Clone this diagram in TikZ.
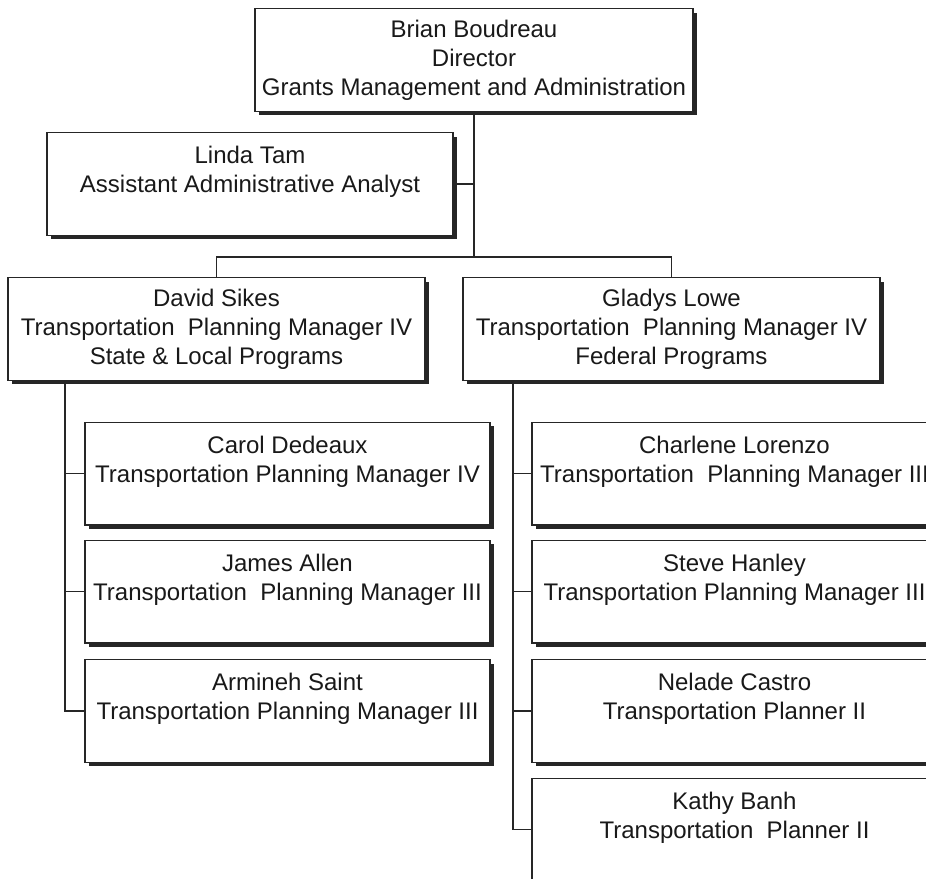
\documentclass[tikz,border=0pt]{standalone}
\usepackage{fontspec}
\setmainfont{Liberation Sans}
\usetikzlibrary{shadows}

\begin{document}
\begin{tikzpicture}[x=0.75pt, y=-0.75pt, font=\fontsize{18}{21.75}\selectfont,
  box/.style={draw=black!85, rectangle, line width=1pt, fill=white, text=black!90,
    align=center, minimum height=77pt,
    drop shadow={shadow xshift=3pt, shadow yshift=-3pt, fill=black!85, opacity=1}},
  link/.style={draw=black!85, line width=1pt}]
\path[use as bounding box, clip] (0,0) rectangle (926,879);

% Director
\node[box, minimum width=328.5pt] (director) at (474,60)
{Brian Boudreau \\ Director \\ Grants Management and Administration};

% Staff box
\node[box, minimum width=304.5pt] (tam) at (250,184)
{Linda Tam \\ Assistant Administrative Analyst \\ ~};

% Managers
\node[box, minimum width=312.75pt] (sikes) at (216.5,329)
{David Sikes \\ Transportation\ \ Planning Manager IV \\ State \& Local Programs};
\node[box, minimum width=312.75pt] (lowe) at (671.5,329)
{Gladys Lowe \\ Transportation\ \ Planning Manager IV \\ Federal Programs};

% State & Local staff
\node[box, minimum width=303.75pt] (dedeaux) at (287.5,473.5)
{Carol Dedeaux \\ Transportation Planning Manager IV \\ ~};
\node[box, minimum width=303.75pt] (allen) at (287.5,591.5)
{James Allen \\ Transportation\ \ Planning Manager III \\ ~};
\node[box, minimum width=303.75pt] (saint) at (287.5,711)
{Armineh Saint \\ Transportation Planning Manager III \\ ~};

% Federal staff
\node[box, minimum width=303.75pt] (lorenzo) at (734.5,473.5)
{Charlene Lorenzo \\ Transportation\ \ Planning Manager III \\ ~};
\node[box, minimum width=303.75pt] (hanley) at (734.5,591.5)
{Steve Hanley \\ Transportation Planning Manager III \\ ~};
\node[box, minimum width=303.75pt] (castro) at (734.5,711)
{Nelade Castro \\ Transportation Planner II \\ ~};
\node[box, minimum width=303.75pt] (banh) at (734.5,829.5)
{Kathy Banh \\ Transportation\ \ Planner II \\ ~};

% Connectors
\coordinate (split) at (474,257);
\coordinate (ltrunk) at (65,380);
\coordinate (rtrunk) at (513,380);
\draw[link] (director.south) -- (split);
\draw[link] (tam.east) -- (tam.east -| director.south);
\draw[link] (sikes.north) |- (split) -| (lowe.north);
\draw[link] (ltrunk) |- (saint.west);
\draw[link] (rtrunk) |- (banh.west);
\foreach \n in {dedeaux,allen}
  \draw[link] (ltrunk |- \n.west) -- (\n.west);
\foreach \n in {lorenzo,hanley,castro}
  \draw[link] (rtrunk |- \n.west) -- (\n.west);
\end{tikzpicture}
\end{document}
